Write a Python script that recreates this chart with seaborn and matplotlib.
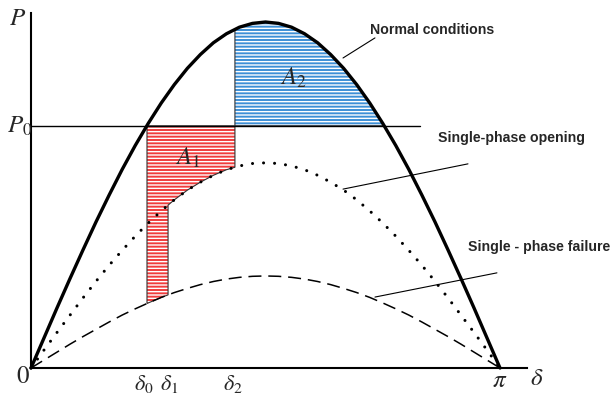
import numpy as np
import matplotlib
matplotlib.use("Agg")
import matplotlib.pyplot as plt
import seaborn as sns

# power-angle curves, every 5 degrees (per unit of the normal peak)
angle_deg = list(range(0, 181, 5))
p_normal = [0, 0.087, 0.174, 0.259, 0.342, 0.423, 0.500, 0.574, 0.643, 0.707,
            0.766, 0.819, 0.866, 0.906, 0.940, 0.966, 0.985, 0.996, 1.000,
            0.996, 0.985, 0.966, 0.940, 0.906, 0.866, 0.819, 0.766, 0.707,
            0.643, 0.574, 0.500, 0.423, 0.342, 0.259, 0.174, 0.087, 0]
p_opening = [0, 0.052, 0.103, 0.153, 0.203, 0.251, 0.297, 0.340, 0.381, 0.419,
             0.454, 0.486, 0.514, 0.537, 0.557, 0.573, 0.584, 0.591, 0.593,
             0.591, 0.584, 0.573, 0.557, 0.537, 0.514, 0.486, 0.454, 0.419,
             0.381, 0.340, 0.297, 0.251, 0.203, 0.153, 0.103, 0.052, 0]
p_failure = [0, 0.023, 0.046, 0.069, 0.091, 0.112, 0.133, 0.153, 0.171, 0.188,
             0.204, 0.218, 0.230, 0.241, 0.250, 0.257, 0.262, 0.265, 0.266,
             0.265, 0.262, 0.257, 0.250, 0.241, 0.230, 0.218, 0.204, 0.188,
             0.171, 0.153, 0.133, 0.112, 0.091, 0.069, 0.046, 0.023, 0]

p0 = 0.70
delta0, delta1, delta2 = 0.777, 0.918, 1.366   # rad
curve_labels = ["Normal conditions", "Single-phase opening", "Single - phase failure"]

sns.set_theme(style="white")
plt.rcParams["font.family"] = ["Liberation Sans", "DejaVu Sans"]
plt.rcParams["mathtext.fontset"] = "stix"
plt.rcParams["hatch.linewidth"] = 1.0

delta = np.radians(angle_deg)
pn, po, pf = np.array(p_normal), np.array(p_opening), np.array(p_failure)

fig = plt.figure(figsize=(6.14, 3.96), dpi=100)
ax = fig.add_axes([31 / 614, 28 / 396, 496 / 614, 355 / 396])
ax.set_xlim(0, 3.3224)
ax.set_ylim(0, 1.026)
ax.set_xticks([])
ax.set_yticks([])
for side in ["top", "right"]:
    ax.spines[side].set_visible(False)
for side in ["left", "bottom"]:
    ax.spines[side].set_linewidth(1.5)
    ax.spines[side].set_color("black")


def at(x, ys):
    return np.interp(x, delta, ys)


# A1 region (accelerating area)
m = (delta > delta1) & (delta < delta2)
m2 = (delta > delta0) & (delta < delta1)
a1_x = ([delta0, delta2, delta2] + list(delta[m][::-1]) + [delta1, delta1]
        + list(delta[m2][::-1]) + [delta0])
a1_y = ([p0, p0, at(delta2, po)] + list(po[m][::-1]) + [at(delta1, po), at(delta1, pf)]
        + list(pf[m2][::-1]) + [at(delta0, pf)])

# A2 region (decelerating area)
dmax = np.pi - delta0
m3 = (delta > delta2) & (delta < dmax)
a2_x = [delta2, delta2] + list(delta[m3]) + [dmax]
a2_y = [p0, at(delta2, pn)] + list(pn[m3]) + [p0]

for xs, ys, fc in [(a1_x, a1_y, "#f03c3c"), (a2_x, a2_y, "#3d8fd6")]:
    ax.fill(xs, ys, facecolor=fc, edgecolor="white", hatch="-----", linewidth=0, zorder=1)
    ax.fill(xs, ys, facecolor="none", edgecolor="#333333", linewidth=0.8, zorder=2)

# P0 line
ax.plot([0, 2.607], [p0, p0], color="black", linewidth=1.0, zorder=3)

# curves
sns.lineplot(x=delta, y=pn, ax=ax, color="black", linewidth=2.4, zorder=4, clip_on=False)
sns.lineplot(x=delta, y=po, ax=ax, color="black", linewidth=2.2,
             linestyle=(0, (0.01, 3.6)), dash_capstyle="round", zorder=4, clip_on=False)
sns.lineplot(x=delta, y=pf, ax=ax, color="black", linewidth=1.1,
             linestyle=(0, (8.5, 4.5)), zorder=4, clip_on=False)

# leader lines and curve labels
leaders = [((2.090, 0.896), (2.304, 0.954)),
           ((2.090, 0.517), (2.927, 0.590)),
           ((2.304, 0.205), (3.121, 0.275))]
label_pos = [(2.271, 0.977), (2.726, 0.665), (2.927, 0.350)]
for (a, b), (tx, ty), lab in zip(leaders, label_pos, curve_labels):
    ax.plot([a[0], b[0]], [a[1], b[1]], color="black", linewidth=0.8, zorder=5, clip_on=False)
    ax.text(tx, ty, lab, fontsize=10.2, fontweight="bold", ha="left", va="center", clip_on=False)

# math labels
tk = dict(fontsize=18, ha="center", va="center", clip_on=False)
ax.text(-0.087, 1.012, "$P$", **tk)
ax.text(-0.074, p0, "$P_0$", **tk)
ax.text(-0.054, -0.023, r"$\mathrm{0}$", **tk)
ax.text(np.pi, -0.035, r"$\pi$", **tk)
ax.text(3.389, -0.03, r"$\delta$", **tk)
ax.text(1.052, 0.607, "$A_1$", **tk)
ax.text(1.755, 0.838, "$A_2$", **tk)
tb = dict(fontsize=16, ha="center", va="center", clip_on=False)
ax.text(delta0 - 0.02, -0.047, r"$\delta_0$", **tb)
ax.text(delta1 + 0.005, -0.047, r"$\delta_1$", **tb)
ax.text(delta2 - 0.015, -0.047, r"$\delta_2$", **tb)

fig.savefig("out.png", dpi=100)
